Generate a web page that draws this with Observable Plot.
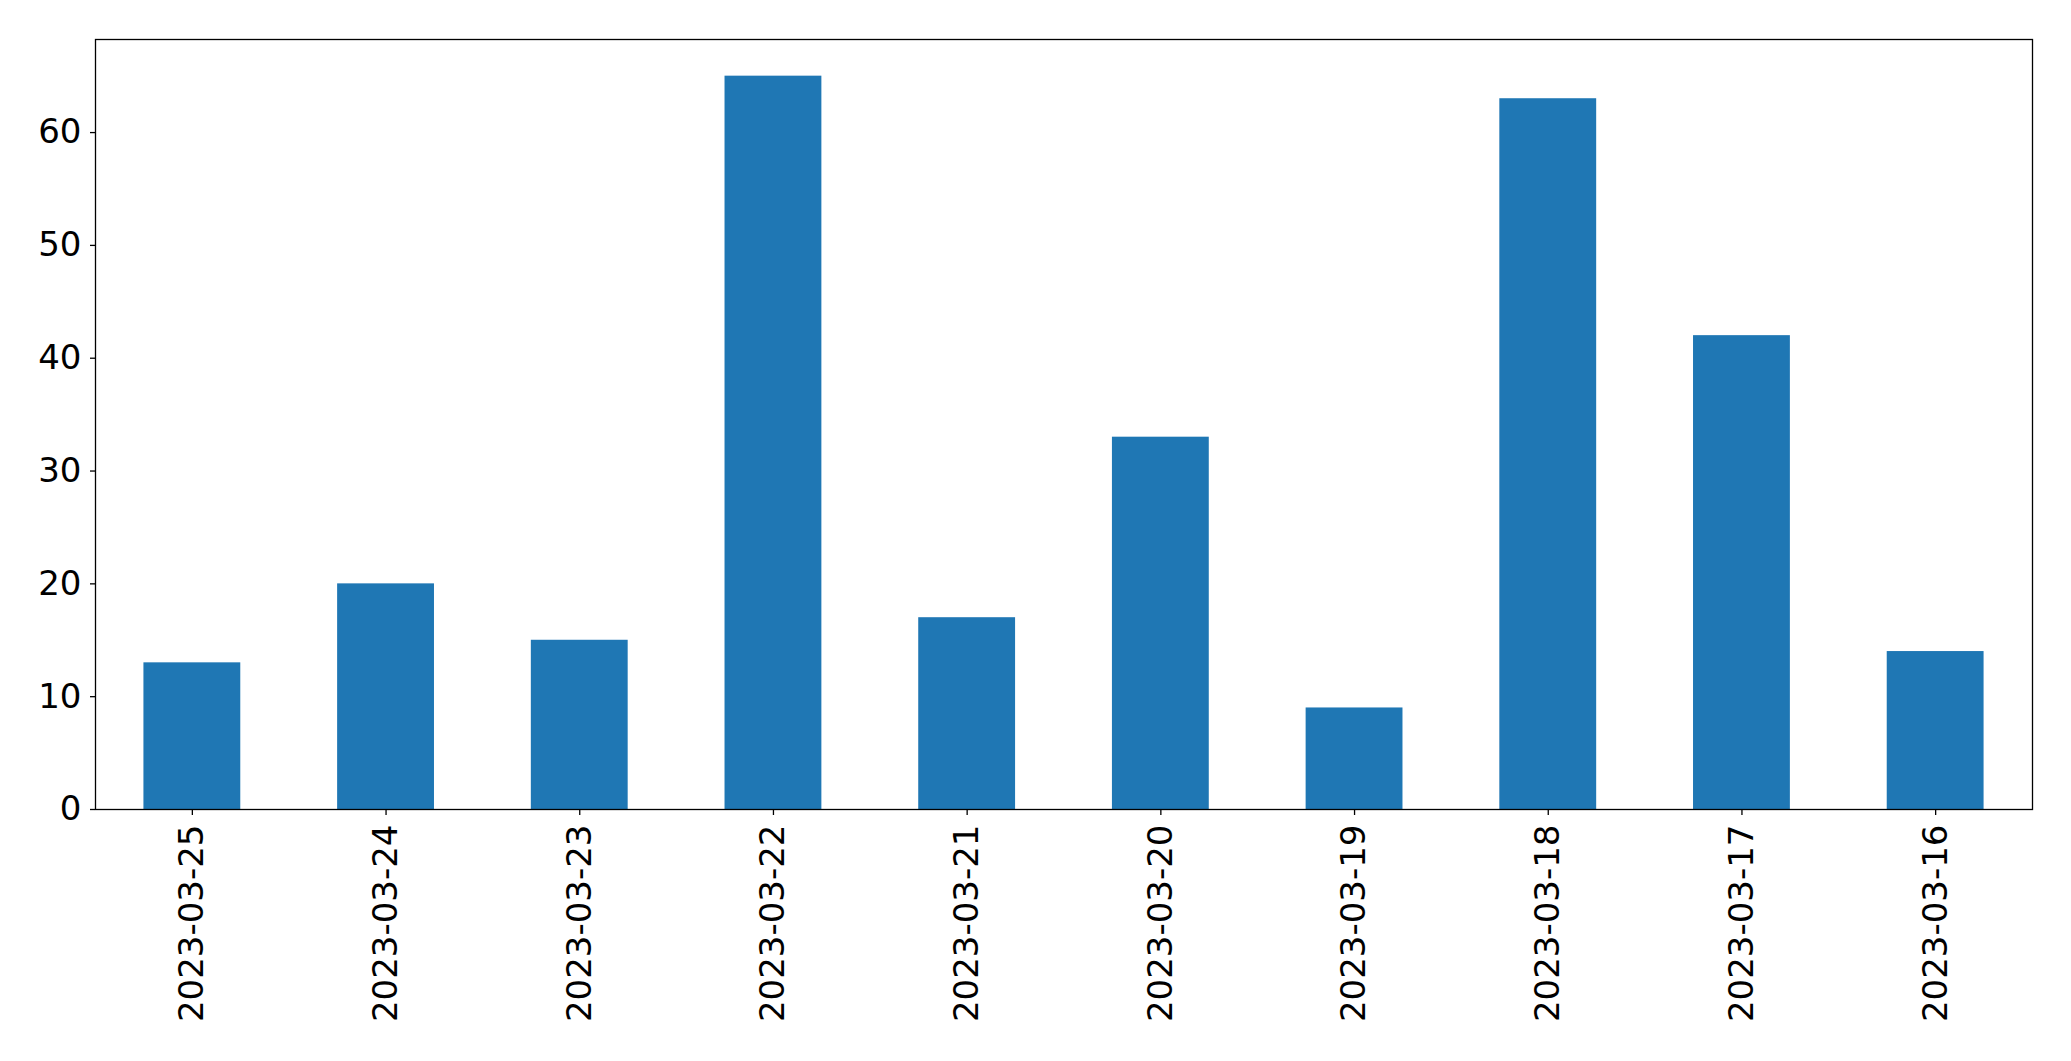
<!DOCTYPE html>
<html>
<head>
<meta charset="utf-8">
<script src="https://cdn.jsdelivr.net/npm/d3@7"></script>
<script src="https://cdn.jsdelivr.net/npm/@observablehq/plot@0.6"></script>
<style>
  html, body { margin: 0; padding: 0; background: #fff; }
  #chart svg { display: block; }
</style>
</head>
<body>
<div id="chart"></div>
<script>
const dates = ["2023-03-25","2023-03-24","2023-03-23","2023-03-22","2023-03-21","2023-03-20","2023-03-19","2023-03-18","2023-03-17","2023-03-16"];
const counts = [13, 20, 15, 65, 17, 33, 9, 63, 42, 14];
const yTicks = [0, 10, 20, 30, 40, 50, 60];

const data = dates.map((d, i) => ({date: d, count: counts[i]}));

const chart = Plot.plot({
  width: 2071,
  height: 1061,
  marginLeft: 95,
  marginRight: 39,
  marginTop: 39,
  marginBottom: 252,
  style: {fontFamily: "DejaVu Sans", fontSize: "34px", color: "black", background: "white"},
  x: {domain: dates, paddingInner: 0.5, paddingOuter: 0.25, round: false, label: null},
  y: {domain: [0, 68.25], label: null},
  marks: [
    Plot.barY(data, {x: "date", y: "count", fill: "#1f77b4"}),
    Plot.axisY({ticks: yTicks, tickSize: 5, tickPadding: 9, label: null, fontSize: 34, strokeWidth: 1.3}),
    Plot.axisX({tickSize: 6, tickPadding: 9, tickRotate: -90, label: null, fontSize: 34, strokeWidth: 1.3}),
    Plot.frame({stroke: "black", strokeWidth: 1.3})
  ]
});
document.getElementById("chart").appendChild(chart);
</script>
</body>
</html>
